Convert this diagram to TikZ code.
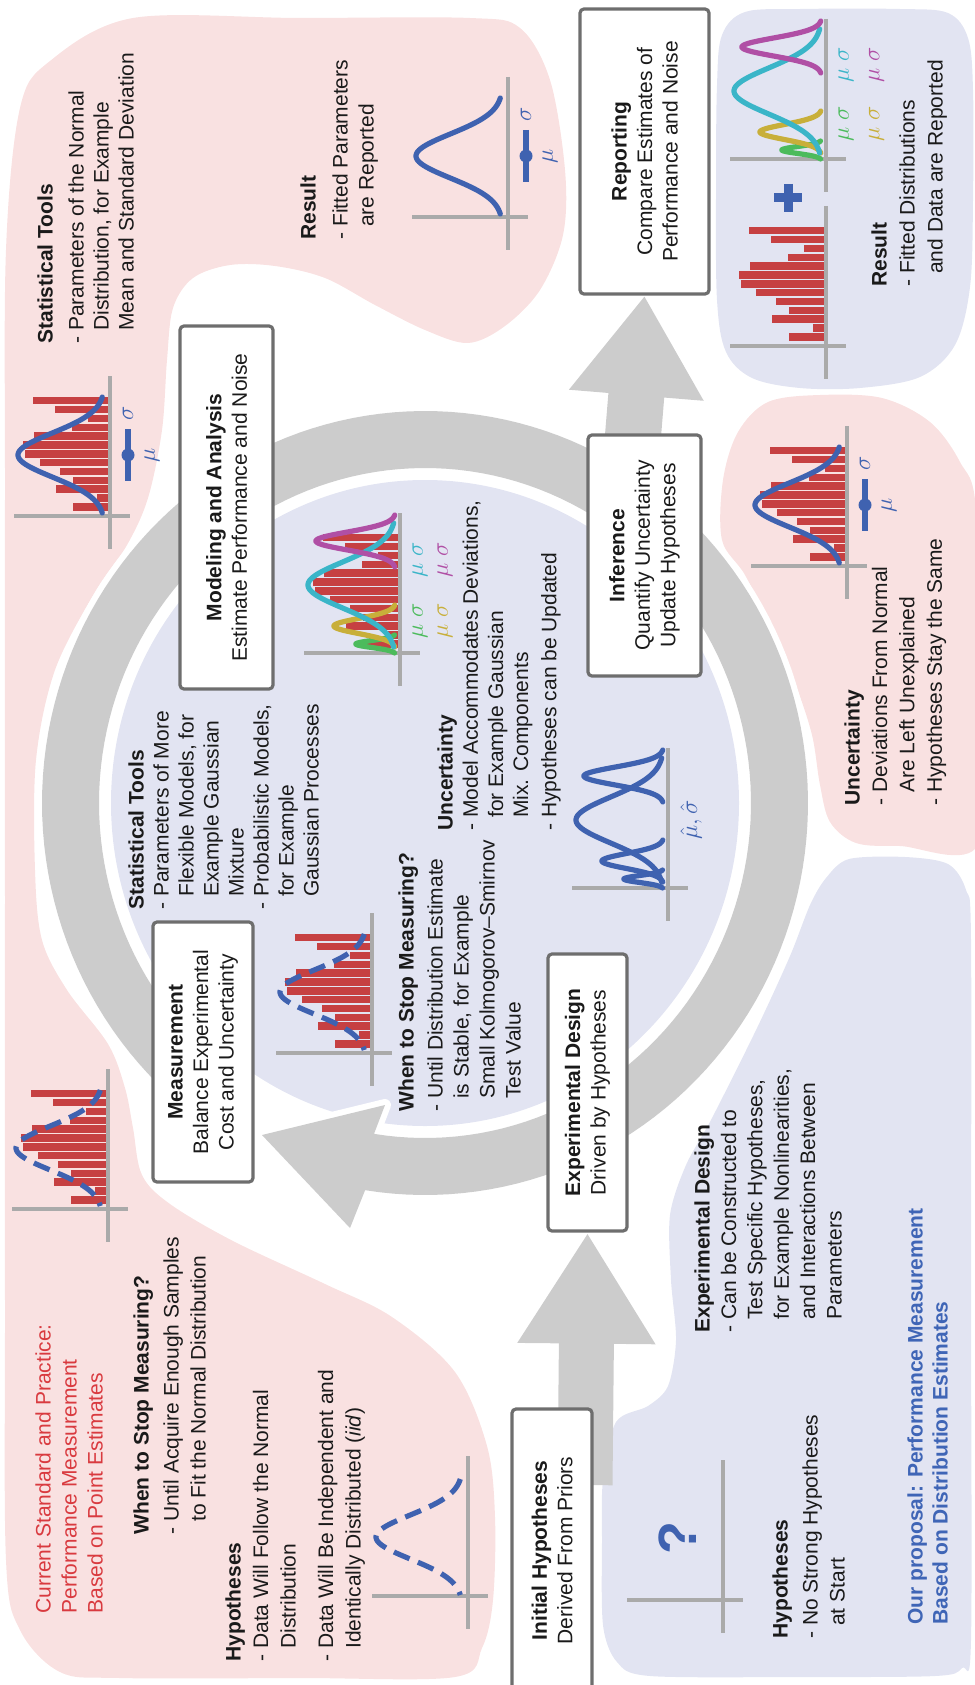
\documentclass[tikz,border=0pt]{standalone}
\usepackage{fontspec}
\setmainfont{Liberation Sans}
\usetikzlibrary{arrows.meta,calc}
\pgfdeclarelayer{blobs}
\pgfdeclarelayer{arrows}
\pgfsetlayers{blobs,arrows,main}
\definecolor{pinkbg}{RGB}{249,225,225}
\definecolor{lavbg}{RGB}{226,228,242}
\definecolor{ringgray}{RGB}{204,204,204}
\definecolor{boxline}{RGB}{110,110,110}
\definecolor{barred}{RGB}{198,64,66}
\definecolor{cblue}{RGB}{63,98,176}
\definecolor{ccyan}{RGB}{58,181,200}
\definecolor{cmag}{RGB}{176,79,165}
\definecolor{cyel}{RGB}{200,175,58}
\definecolor{cgreen}{RGB}{76,187,92}
\definecolor{axisgray}{RGB}{170,170,170}
\definecolor{titlered}{RGB}{217,58,63}
\definecolor{titleblue}{RGB}{63,101,182}
\definecolor{txt}{RGB}{26,26,26}
\newcommand\hy{\phantom{-\ }}
\newcommand\myaxes[2]{%
  \draw[axisline] (#1,#2-140) -- (#1,#2+33);
  \draw[axisline] (#1-96,#2) -- (#1+20,#2);}
\newcommand\mybars[2]{%
  \foreach \L [count=\i from 0] in {77,55,22,38,76,87,85,70,50,37,54,13,37}{%
    \fill[barred] ({#1-\L},{#2-119+\i*8.846}) rectangle ({#1},{#2-119+(\i+1)*8.846-1.4});}}
\newcommand\gcurve[6]{%
  \pgfmathsetmacro\gA{(#3)-(#6)}%
  \pgfmathsetmacro\gB{(#3)+(#6)}%
  \draw[#1] plot[domain=\gA:\gB, samples=70, smooth, variable=\t]
    ({(#2)-(#5)*exp(-((\t-(#3))*(\t-(#3)))/(2*(#4)*(#4)))},{\t});}
\newcommand\mynormal[3]{\gcurve{#3}{#1-5}{#2-61}{22}{87}{58}}
\newcommand\mymarker[3]{%
  \draw[cblue, line width=2.8pt] (#1+18,#2-87) -- (#1+18,#2-35);
  \fill[cblue] (#1+18,#2-61) circle[radius=6.5];
  \node[mathlbl] (#3s) at (#1+18,#2-103) {$\sigma$};
  \node[mathlbl] (#3m) at (#1+42,#2-61) {$\mu$};}
\newcommand\mymix[6]{%
  \gcurve{mixline,draw=#6}{#1-4}{#2-9}{3.5}{40}{9}%
  \gcurve{mixline,draw=#5}{#1-4}{#2-27}{7.5}{62}{21}%
  \gcurve{mixline,draw=#4}{#1-4}{#2-68}{23}{88}{62}%
  \gcurve{mixline,draw=#3}{#1-4}{#2-112}{9}{80}{26}}
\begin{document}
\begin{tikzpicture}[x=0.5pt,y=-0.5pt,
  tb/.style={rotate=90, anchor=north west, inner sep=0pt, align=left, text=txt, font=\fontsize{10.5}{12.5}\selectfont},
  boxn/.style={rotate=90, draw=boxline, line width=1.6pt, fill=white, rounded corners=2pt, align=center, inner sep=0pt, text=txt, font=\fontsize{10.5}{12.75}\selectfont},
  mathlbl/.style={rotate=90, inner sep=0pt, font=\fontsize{12}{14}\selectfont, text=cblue},
  mulbl/.style={rotate=90, inner sep=0pt, font=\fontsize{12}{14}\selectfont},
  axisline/.style={draw=axisgray, line width=1.8pt},
  normline/.style={draw=cblue, line width=2.6pt, line cap=round},
  dashline/.style={draw=cblue, line width=2.6pt, dash pattern=on 8.5pt off 4.5pt},
  mixline/.style={line width=2.6pt, line cap=round},
  bigarrow/.style={draw=ringgray, line width=27.5pt, -{Triangle[width=65pt,length=55.5pt]}},
  bigarrowb/.style={draw=ringgray, line width=28pt, -{Triangle[width=64pt,length=50pt]}},
]
\useasboundingbox (0,0) rectangle (974,1685);
\clip (0,0) rectangle (974,1685);

% ---------- background blobs ----------
\begin{pgfonlayer}{blobs}
\fill[pinkbg] plot[smooth cycle, tension=0.55] coordinates {
 (6,250) (20,108) (50,61) (133,18) (300,18) (470,18) (520,28) (550,80) (565,170) (563,235)
 (540,290) (505,326) (468,343) (425,330) (375,305) (325,278) (275,266) (230,265) (193,278)
 (173,308) (167,360) (162,430) (148,498) (127,545) (95,592) (55,670) (36,760) (35,870)
 (42,940) (67,990) (108,1044) (125,1088) (133,1128) (142,1175) (170,1204) (233,1241)
 (325,1284) (392,1317) (455,1372) (487,1446) (495,1517) (493,1600) (482,1648) (455,1677)
 (300,1678) (120,1678) (60,1672) (20,1630) (6,1560) (5,1300) (5,900) (5,500)};
\fill[pinkbg] plot[smooth cycle, tension=0.55] coordinates {
 (722,540) (723,480) (738,432) (768,402) (820,395) (882,398) (930,422) (960,462) (976,510)
 (978,700) (978,845) (900,846) (856,843) (830,822) (820,785) (812,735) (795,683) (772,630) (745,575)};
\fill[lavbg] plot[smooth cycle, tension=0.55] coordinates {
 (717,85) (722,35) (745,12) (800,9) (900,9) (948,13) (968,38) (973,90) (973,200) (970,287)
 (955,345) (920,377) (860,388) (800,388) (752,378) (726,352) (717,300) (716,190)};
\fill[lavbg] plot[smooth cycle, tension=0.5] coordinates {
 (849,859) (905,857) (948,864) (966,890) (971,940) (971,1300) (971,1640) (962,1668) (935,1676)
 (800,1677) (650,1676) (617,1662) (603,1625) (602,1540) (603,1480) (616,1422) (648,1406)
 (668,1386) (676,1340) (671,1280) (670,1215) (686,1165) (712,1118) (757,1028) (790,956)
 (810,905) (826,878)};
\fill[lavbg] (425,803) ellipse[x radius=314, y radius=323];
\end{pgfonlayer}

% ---------- boxes ----------
\node[boxn, minimum width=142.5pt, minimum height=64.5pt] (reporting) at (644.5,151.5)
  {\textbf{Reporting}\\Compare Estimates of\\Performance and Noise};
\node[boxn, minimum width=120.5pt, minimum height=56.5pt] (inference) at (644.5,555.5)
  {\textbf{Inference}\\Quantify Uncertainty\\Update Hypotheses};
\node[boxn, minimum width=181.5pt, minimum height=46.5pt] (modeling) at (226.5,507.5)
  {\textbf{Modeling and Analysis}\\Estimate Performance and Noise};
\node[boxn, minimum width=130pt, minimum height=50pt] (measurement) at (203,1052)
  {\textbf{Measurement}\\Balance Experimental\\Cost and Uncertainty};
\node[boxn, minimum width=138.5pt, minimum height=39.5pt] (expdesign) at (587.5,1092.5)
  {\textbf{Experimental Design}\\Driven by Hypotheses};
\node[boxn, minimum width=141.5pt, minimum height=40pt] (inithyp) at (552,1550.5)
  {\textbf{Initial Hypotheses}\\Derived From Priors};

% ---------- ring and big arrows ----------
\begin{pgfonlayer}{arrows}
\fill[ringgray, preaction={draw=white, line width=6pt, line join=round}]
  plot[domain=128:459, samples=160, variable=\t] ({425+326*cos(\t)},{803+335*sin(\t)})
  -- (385,1105) -- (262,1135) -- (350,1228)
  -- plot[domain=459:128, samples=160, variable=\t] ({425+383*cos(\t)},{803+392*sin(\t)})
  -- cycle;
\coordinate (a1s) at (585,1485);
\coordinate (a2s) at (631,460);
\draw[bigarrow] (a1s) -- (expdesign.west);
\draw[bigarrowb] (a2s) -- (reporting.west);
\end{pgfonlayer}

% ---------- plots ----------
\mybars{110}{516}
\myaxes{110}{516}
\mynormal{110}{516}{normline}
\mymarker{110}{516}{ptl}
\myaxes{508}{217}
\mynormal{508}{217}{normline}
\mymarker{508}{217}{ptm}
\mybars{847}{566}
\myaxes{847}{566}
\mynormal{847}{566}{normline}
\mymarker{847}{566}{prp}
\mybars{826}{346}
\myaxes{826}{346}
\draw[cblue, line width=4.5pt] (774,198) -- (802,198);
\draw[cblue, line width=4.5pt] (788,184) -- (788,212);
\myaxes{826}{159}
\mymix{826}{159}{cmag}{ccyan}{cyel}{cgreen}
\node[mulbl, text=cgreen] (trg) at (846,124) {$\mu\;\sigma$};
\node[mulbl, text=ccyan] (trc) at (846,65) {$\mu\;\sigma$};
\node[mulbl, text=cyel] (try) at (876.5,124) {$\mu\;\sigma$};
\node[mulbl, text=cmag] (trm) at (876.5,65) {$\mu\;\sigma$};
\mybars{400}{653}
\myaxes{400}{653}
\mymix{400}{653}{cmag}{ccyan}{cyel}{cgreen}
\node[mulbl, text=cgreen] (cg) at (420,621) {$\mu\;\sigma$};
\node[mulbl, text=ccyan] (cc) at (420,560) {$\mu\;\sigma$};
\node[mulbl, text=cyel] (cy) at (445,621) {$\mu\;\sigma$};
\node[mulbl, text=cmag] (cm) at (445,560) {$\mu\;\sigma$};
\myaxes{668}{888}
\mymix{668}{888}{cblue}{cblue}{cblue}{cblue}
\node[mulbl, text=cblue] (hatlbl) at (691,820) {$\hat\mu,\hat\sigma$};
\mybars{372}{1053}
\myaxes{372}{1053}
\mynormal{372}{1053}{dashline}
\mybars{108}{1209}
\myaxes{108}{1209}
\mynormal{108}{1209}{dashline}
\myaxes{468}{1596}
\mynormal{468}{1598}{dashline}
\myaxes{723}{1600}
\node[rotate=90, inner sep=0pt, text=cblue, font=\bfseries\fontsize{27}{30}\selectfont] (qmark) at (678,1538) {?};

% ---------- texts ----------
\node[tb] (tstat1) at (37,344) {\textbf{Statistical Tools}\\[3pt]- Parameters of the Normal\\\hy Distribution, for Example\\\hy Mean and Standard Deviation};
\node[tb, font=\fontsize{10.5}{13}\selectfont] (tres1) at (300,240) {\textbf{Result}\\[3pt]- Fitted Parameters\\\hy are Reported};
\node[tb, font=\fontsize{10.5}{14}\selectfont] (tres2) at (871,287) {\textbf{Result}\\- Fitted Distributions\\\hy and Data are Reported};
\node[tb, font=\fontsize{10.5}{13.7}\selectfont] (tunc2) at (844,806) {\textbf{Uncertainty}\\- Deviations From Normal\\\hy Are Left Unexplained\\- Hypotheses Stay the Same};
\node[tb] (tstat2) at (128,910) {\textbf{Statistical Tools}\\- Parameters of More\\\hy Flexible Models, for\\\hy Example Gaussian\\\hy Mixture\\- Probabilistic Models,\\\hy for Example\\\hy Gaussian Processes};
\node[tb, font=\fontsize{10.5}{13}\selectfont] (tstop2) at (398,1112) {\textbf{When to Stop Measuring?}\\[1.5pt]- Until Distribution Estimate\\\hy is Stable, for Example\\\hy Small Kolmogorov--Smirnov\\\hy Test Value};
\node[tb, font=\fontsize{10.5}{12.6}\selectfont] (tunc1) at (437,831) {\textbf{Uncertainty}\\- Model Accommodates Deviations,\\\hy for Example Gaussian\\\hy Mix. Components\\[1.5pt]- Hypotheses can be Updated};
\node[tb, text=titlered, font=\fontsize{10.5}{13}\selectfont] (tcur) at (35,1614) {Current Standard and Practice:\\Performance Measurement\\Based on Point Estimates};
\node[tb, font=\fontsize{10.5}{13.5}\selectfont] (tstop1) at (133,1535) {\textbf{When to Stop Measuring?}\\[1.5pt]- Until Acquire Enough Samples\\\hy to Fit the Normal Distribution};
\node[tb, font=\fontsize{10.5}{13.75}\selectfont] (thyp1) at (225,1662) {\textbf{Hypotheses}\\- Data Will Follow the Normal\\\hy Distribution\\[5pt]- Data Will Be Independent and\\\hy Identically Distributed (\textit{iid})};
\node[tb, font=\fontsize{10.5}{13.2}\selectfont] (texp) at (694,1333) {\textbf{Experimental Design}\\- Can be Constructed to\\\hy Test Specific Hypotheses,\\\hy for Example Nonlinearities,\\\hy and Interactions Between\\\hy Parameters};
\node[tb, font=\fontsize{10.5}{13.5}\selectfont] (thyp2) at (772,1639) {\textbf{Hypotheses}\\[1.5pt]- No Strong Hypotheses\\\hy at Start};
\node[tb, text=titleblue, font=\fontsize{10.5}{12.5}\selectfont\bfseries] (tour) at (907,1625) {Our proposal: Performance Measurement\\Based on Distribution Estimates};
\end{tikzpicture}
\end{document}
